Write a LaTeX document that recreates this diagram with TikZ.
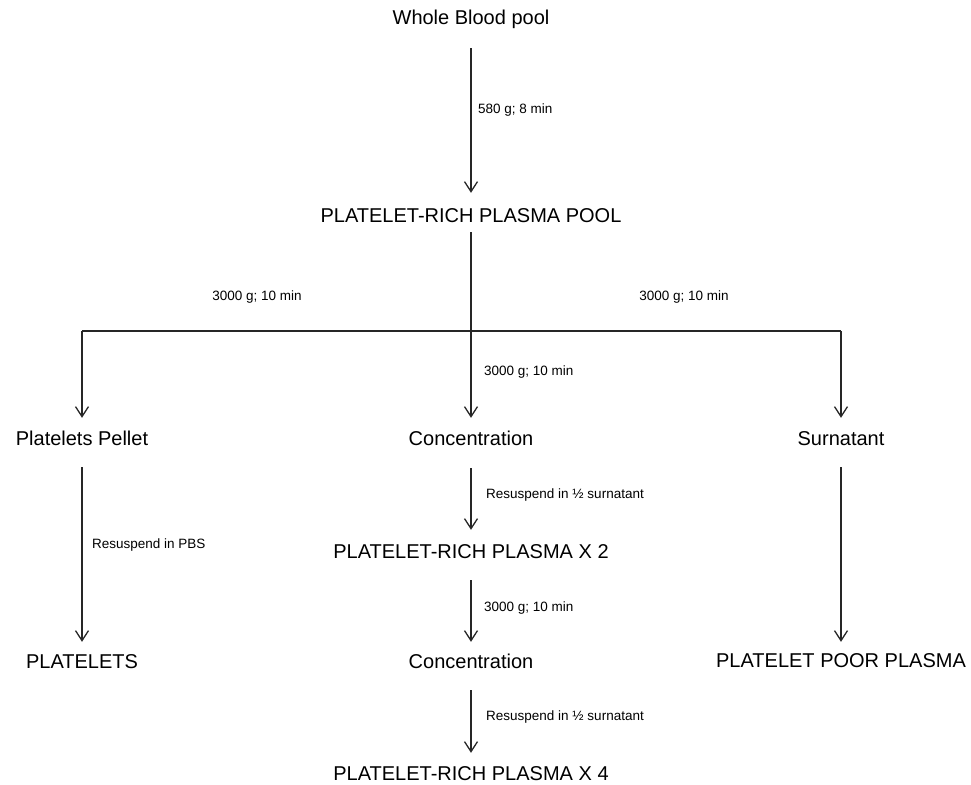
\documentclass[tikz,border=0pt]{standalone}
\usepackage{fontspec}
\setmainfont{Liberation Sans}
\usetikzlibrary{arrows.meta}
\begin{document}
\begin{tikzpicture}[x=1pt,y=-1pt,
  big/.style={font=\fontsize{20}{24}\selectfont, inner sep=0pt, text height=14pt, text depth=4pt, anchor=base},
  small/.style={font=\fontsize{13.5}{16}\selectfont, inner sep=0pt, anchor=west},
  conn/.style={draw=black!85, line width=1.3pt},
  arr/.style={conn, -{Straight Barb[length=10pt,width=13pt,line width=1.3pt]}, shorten <=18pt, shorten >=12pt},
  ]
\useasboundingbox (0,0) rectangle (971,784);
% nodes
\node[big] (wb)   at (471,25)  {Whole Blood pool};
\node[big] (prp)  at (471,222) {PLATELET-RICH PLASMA POOL};
\node[big] (pp)   at (82,445)  {Platelets Pellet};
\node[big] (c1)   at (471,445) {Concentration};
\node[big] (sur)  at (841,445) {Surnatant};
\node[big] (pl)   at (82,668)  {PLATELETS};
\node[big] (prp2) at (471,558) {PLATELET-RICH PLASMA X 2};
\node[big] (c2)   at (471,668) {Concentration};
\node[big] (prp4) at (471,780) {PLATELET-RICH PLASMA X 4};
\node[big] (ppp)  at (841,667) {PLATELET POOR PLASMA};
% junctions
\coordinate (j)  at (471,331);
\coordinate (jl) at (82,331);
\coordinate (jr) at (841,331);
% connectors
\draw[arr, shorten <=19pt, shorten >=15pt] (wb) -- (prp);
\draw[conn, line width=2.4pt, shorten <=6pt] (prp) -- (j);
\draw[conn] (jl) -- (jr);
\draw[arr, shorten <=0pt, shorten >=13pt] (jl) -- (pp);
\draw[arr, shorten <=0pt, shorten >=13pt] (j) -- (c1);
\draw[arr, shorten <=0pt, shorten >=13pt] (jr) -- (sur);
\draw[arr] (pp) -- (pl);
\draw[arr, shorten <=19pt, shorten >=14pt] (c1) -- (prp2);
\draw[arr] (prp2) -- (c2);
\draw[arr, shorten >=13pt] (c2) -- (prp4);
\draw[arr, shorten >=11pt] (sur) -- (ppp);
% labels
\node[small] (l1) at (478,110) {580 g; 8 min};
\node[small, anchor=center] (l2) at (257,297) {3000 g; 10 min};
\node[small, anchor=center] (l3) at (684,297) {3000 g; 10 min};
\node[small] (l4) at (484,372) {3000 g; 10 min};
\node[small] (l5) at (92,545) {Resuspend in PBS};
\node[small] (l6) at (486,495) {Resuspend in ½ surnatant};
\node[small] (l7) at (484,608) {3000 g; 10 min};
\node[small] (l8) at (486,717) {Resuspend in ½ surnatant};
\end{tikzpicture}
\end{document}
